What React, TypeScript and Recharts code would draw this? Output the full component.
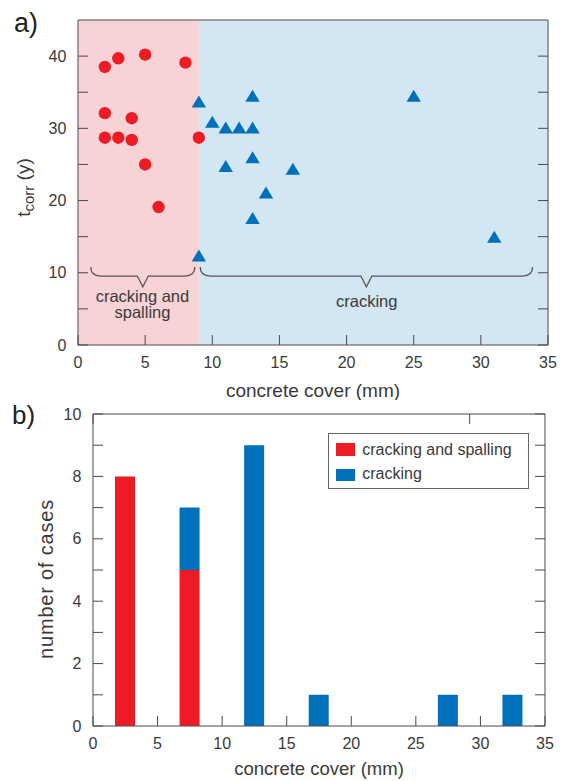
import React from 'react';
import {
  ScatterChart,
  Scatter,
  XAxis,
  YAxis,
  ReferenceArea,
  ReferenceDot,
  BarChart,
  Bar,
  Legend,
} from 'recharts';

const FONT = '"Liberation Sans", Arial, Helvetica, sans-serif';
const TEXT = '#3a3a3a';
const AXIS = '#4a4a4a';
const RED = '#ED1C24';
const BLUE = '#0070BA';
const PINK_BG = '#F8D3D5';
const BLUE_BG = '#D3E6F3';

// ---- panel a) data ----
const spallX = [2, 3, 5, 8, 2, 4, 2, 3, 4, 9, 5, 6];
const spallY = [38.5, 39.7, 40.2, 39.1, 32.1, 31.4, 28.7, 28.7, 28.4, 28.7, 25.0, 19.1];
const crackX = [9, 10, 11, 12, 13, 13, 13, 11, 16, 14, 13, 9, 25, 31];
const crackY = [33.7, 30.9, 30.1, 30.1, 30.1, 34.5, 26.0, 24.8, 24.4, 21.1, 17.6, 12.4, 34.5, 15.0];
const coverTicks = [0, 5, 10, 15, 20, 25, 30, 35];
const tcorrTicks = [0, 5, 10, 15, 20, 25, 30, 35, 40];
const regionEdges = [0, 9, 35];
const spallBrace = [0.95, 8.7];
const crackBrace = [9.1, 33.85];
const braceLevels = [8.07, 10.8];
const spallLabel = ['cracking and', 'spalling'];
const crackLabel = ['cracking'];

// ---- panel b) data ----
const binCenters = [2.5, 7.5, 12.5, 17.5, 22.5, 27.5, 32.5];
const spallCounts = [8, 5, 0, 0, 0, 0, 0];
const crackCounts = [0, 2, 9, 1, 0, 1, 1];
const countTicks = [0, 1, 2, 3, 4, 5, 6, 7, 8, 9, 10];
const seriesNames = ['cracking and spalling', 'cracking'];
const seriesColors = [RED, BLUE];

const spallPoints = spallX.map((x, i) => ({ x, y: spallY[i] }));
const crackPoints = crackX.map((x, i) => ({ x, y: crackY[i] }));
const histData = binCenters.map((bin, i) => ({ bin, spall: spallCounts[i], crack: crackCounts[i] }));

const tickStyle = { fill: TEXT, fontSize: 16, fontFamily: FONT };

const CircleMark = (p: any) => <circle cx={p.cx} cy={p.cy} r={6.2} fill={RED} />;
const TriMark = (p: any) => {
  const hw = 7.2;
  const h = 12;
  const d = `M${p.cx},${p.cy - h / 2} L${p.cx + hw},${p.cy + h / 2} L${p.cx - hw},${p.cy + h / 2} Z`;
  return <path d={d} fill={BLUE} />;
};

const Brace = (p: any) => {
  const { x, y, width, height } = p;
  if (width == null) return null;
  const lineY = y + height * 0.458;
  const tipY = y + height;
  const cx = x + width / 2;
  const r = 10;
  const t = 5.5;
  const d = `M${x},${y} Q${x},${lineY} ${x + r},${lineY} L${cx - t},${lineY} L${cx},${tipY} L${cx + t},${lineY} L${x + width - r},${lineY} Q${x + width},${lineY} ${x + width},${y}`;
  return <path d={d} fill="none" stroke="#555" strokeWidth={1.3} />;
};

const makeAnno = (lines: string[]) => (p: any) => (
  <text x={p.cx} y={p.cy} textAnchor="middle" fontSize={16.5} fill={TEXT} fontFamily={FONT}>
    {lines.map((l, i) => (
      <tspan key={i} x={p.cx} dy={i === 0 ? 0 : 16.5}>
        {l}
      </tspan>
    ))}
  </text>
);

const TcorrLabel = (p: any) => {
  const vb = p.viewBox || { x: 28, y: 20, width: 50, height: 325 };
  const bx = vb.x + 2;
  const cy = vb.y + vb.height / 2 + 5;
  return (
    <text
      x={bx}
      y={cy}
      transform={`rotate(-90 ${bx} ${cy})`}
      textAnchor="middle"
      fontSize={19}
      fill={TEXT}
      fontFamily={FONT}
    >
      t
      <tspan fontSize={15} dy={4}>
        corr
      </tspan>
      <tspan dy={-4}> (y)</tspan>
    </text>
  );
};

const CasesLabel = (p: any) => {
  const vb = p.viewBox || { x: 43, y: 14, width: 50, height: 312 };
  const bx = vb.x + 10;
  const cy = vb.y + vb.height / 2 + 9;
  return (
    <text
      x={bx}
      y={cy}
      transform={`rotate(-90 ${bx} ${cy})`}
      textAnchor="middle"
      fontSize={20}
      fill={TEXT}
      fontFamily={FONT}
      letterSpacing={0.8}
    >
      number of cases
    </text>
  );
};

const renderLegend = () => {
  const items = seriesNames.map((n, i) => ({ name: n, color: seriesColors[i] }));
  return (
    <div
      style={{
        position: 'relative',
        width: 201,
        height: 56,
        border: '1px solid #666',
        boxSizing: 'border-box',
        background: '#fff',
        fontFamily: FONT,
      }}
    >
      {items.map((e, i) => (
        <React.Fragment key={i}>
          <div
            style={{
              position: 'absolute',
              left: 7,
              top: 9 + i * 25.5,
              width: 19.6,
              height: 12.4,
              background: e.color,
            }}
          />
          <div
            style={{
              position: 'absolute',
              left: 33.6,
              top: 5.5 + i * 24.5,
              lineHeight: '20px',
              fontSize: 16,
              color: TEXT,
              whiteSpace: 'nowrap',
            }}
          >
            {e.name}
          </div>
        </React.Fragment>
      ))}
    </div>
  );
};

export default function App() {
  return (
    <div style={{ position: 'absolute', left: 0, top: 0, width: 564, height: 781, background: '#fff' }}>
      <svg width={564} height={781} style={{ position: 'absolute', left: 0, top: 0 }}>
        <text x={14} y={32} fontSize={27} fill="#222" fontFamily={FONT}>
          a)
        </text>
        <text x={12} y={424} fontSize={26} fill="#222" fontFamily={FONT}>
          b)
        </text>
      </svg>

      <div style={{ position: 'absolute', left: 0, top: 0 }}>
        <ScatterChart width={564} height={400} margin={{ top: 19, right: 15, bottom: 15, left: 28 }}>
          <ReferenceArea
            x1={regionEdges[0]}
            x2={regionEdges[1]}
            fill={PINK_BG}
            fillOpacity={1}
            stroke="none"
          />
          <ReferenceArea
            x1={regionEdges[1]}
            x2={regionEdges[2]}
            fill={BLUE_BG}
            fillOpacity={1}
            stroke="none"
          />
          <XAxis
            type="number"
            dataKey="x"
            domain={[0, 35]}
            ticks={coverTicks}
            allowDataOverflow
            height={40}
            stroke={AXIS}
            tickSize={-10}
            tickMargin={21.7}
            tick={tickStyle}
            label={{
              value: 'concrete cover (mm)',
              position: 'insideBottom',
              offset: -11.7,
              style: { fill: TEXT, fontSize: 19, fontFamily: FONT },
            }}
          />
          <XAxis
            xAxisId="top"
            orientation="top"
            type="number"
            domain={[0, 35]}
            ticks={coverTicks}
            allowDataOverflow
            height={1}
            stroke={AXIS}
            tickSize={-10}
            tickFormatter={() => ''}
          />
          <YAxis
            type="number"
            dataKey="y"
            domain={[0, 45]}
            ticks={tcorrTicks}
            allowDataOverflow
            width={50}
            stroke={AXIS}
            tickSize={-10}
            tickMargin={21.6}
            tick={tickStyle}
            tickFormatter={(v: number) => (v % 10 === 0 ? String(v) : '')}
            label={TcorrLabel}
          />
          <YAxis
            yAxisId="right"
            orientation="right"
            type="number"
            domain={[0, 45]}
            ticks={tcorrTicks}
            allowDataOverflow
            width={1}
            stroke={AXIS}
            tickSize={-10}
            tickFormatter={() => ''}
          />
          <ReferenceArea
            x1={spallBrace[0]}
            x2={spallBrace[1]}
            y1={braceLevels[0]}
            y2={braceLevels[1]}
            shape={Brace}
          />
          <ReferenceArea
            x1={crackBrace[0]}
            x2={crackBrace[1]}
            y1={braceLevels[0]}
            y2={braceLevels[1]}
            shape={Brace}
          />
          <ReferenceDot x={4.8} y={6.0} r={1} shape={makeAnno(spallLabel)} />
          <ReferenceDot x={21.5} y={5.26} r={1} shape={makeAnno(crackLabel)} />
          <Scatter name="cracking and spalling" data={spallPoints} shape={CircleMark} isAnimationActive={false} />
          <Scatter name="cracking" data={crackPoints} shape={TriMark} isAnimationActive={false} />
        </ScatterChart>
      </div>

      <div style={{ position: 'absolute', left: 0, top: 400 }}>
        <BarChart
          width={564}
          height={381}
          data={histData}
          margin={{ top: 13, right: 18, bottom: 15, left: 43 }}
        >
          <XAxis
            type="number"
            dataKey="bin"
            domain={[0, 35]}
            ticks={coverTicks}
            allowDataOverflow
            height={40}
            stroke={AXIS}
            tickSize={-10}
            tickMargin={21.3}
            tick={tickStyle}
            label={{
              value: 'concrete cover (mm)',
              position: 'insideBottom',
              offset: -9,
              style: { fill: TEXT, fontSize: 18.5, fontFamily: FONT },
            }}
          />
          <XAxis
            xAxisId="top"
            orientation="top"
            type="number"
            domain={[0, 35]}
            ticks={coverTicks}
            allowDataOverflow
            height={1}
            stroke={AXIS}
            tickSize={-10}
            tickFormatter={() => ''}
          />
          <YAxis
            type="number"
            domain={[0, 10]}
            ticks={countTicks}
            allowDataOverflow
            width={50}
            stroke={AXIS}
            tickSize={-10}
            tickMargin={21.6}
            tick={tickStyle}
            tickFormatter={(v: number) => (v % 2 === 0 ? String(v) : '')}
            label={CasesLabel}
          />
          <YAxis
            yAxisId="right"
            orientation="right"
            type="number"
            domain={[0, 10]}
            ticks={countTicks}
            allowDataOverflow
            width={1}
            stroke={AXIS}
            tickSize={-10}
            tickFormatter={() => ''}
          />
          <Legend
            layout="vertical"
            verticalAlign="middle"
            align="center"
            content={renderLegend}
            wrapperStyle={{ position: 'absolute', left: 327.7, top: 33.3, width: 201, height: 56 }}
          />
          <Bar dataKey="spall" name={seriesNames[0]} stackId="s" fill={RED} barSize={20} isAnimationActive={false} />
          <Bar dataKey="crack" name={seriesNames[1]} stackId="s" fill={BLUE} barSize={20} isAnimationActive={false} />
        </BarChart>
      </div>
    </div>
  );
}
